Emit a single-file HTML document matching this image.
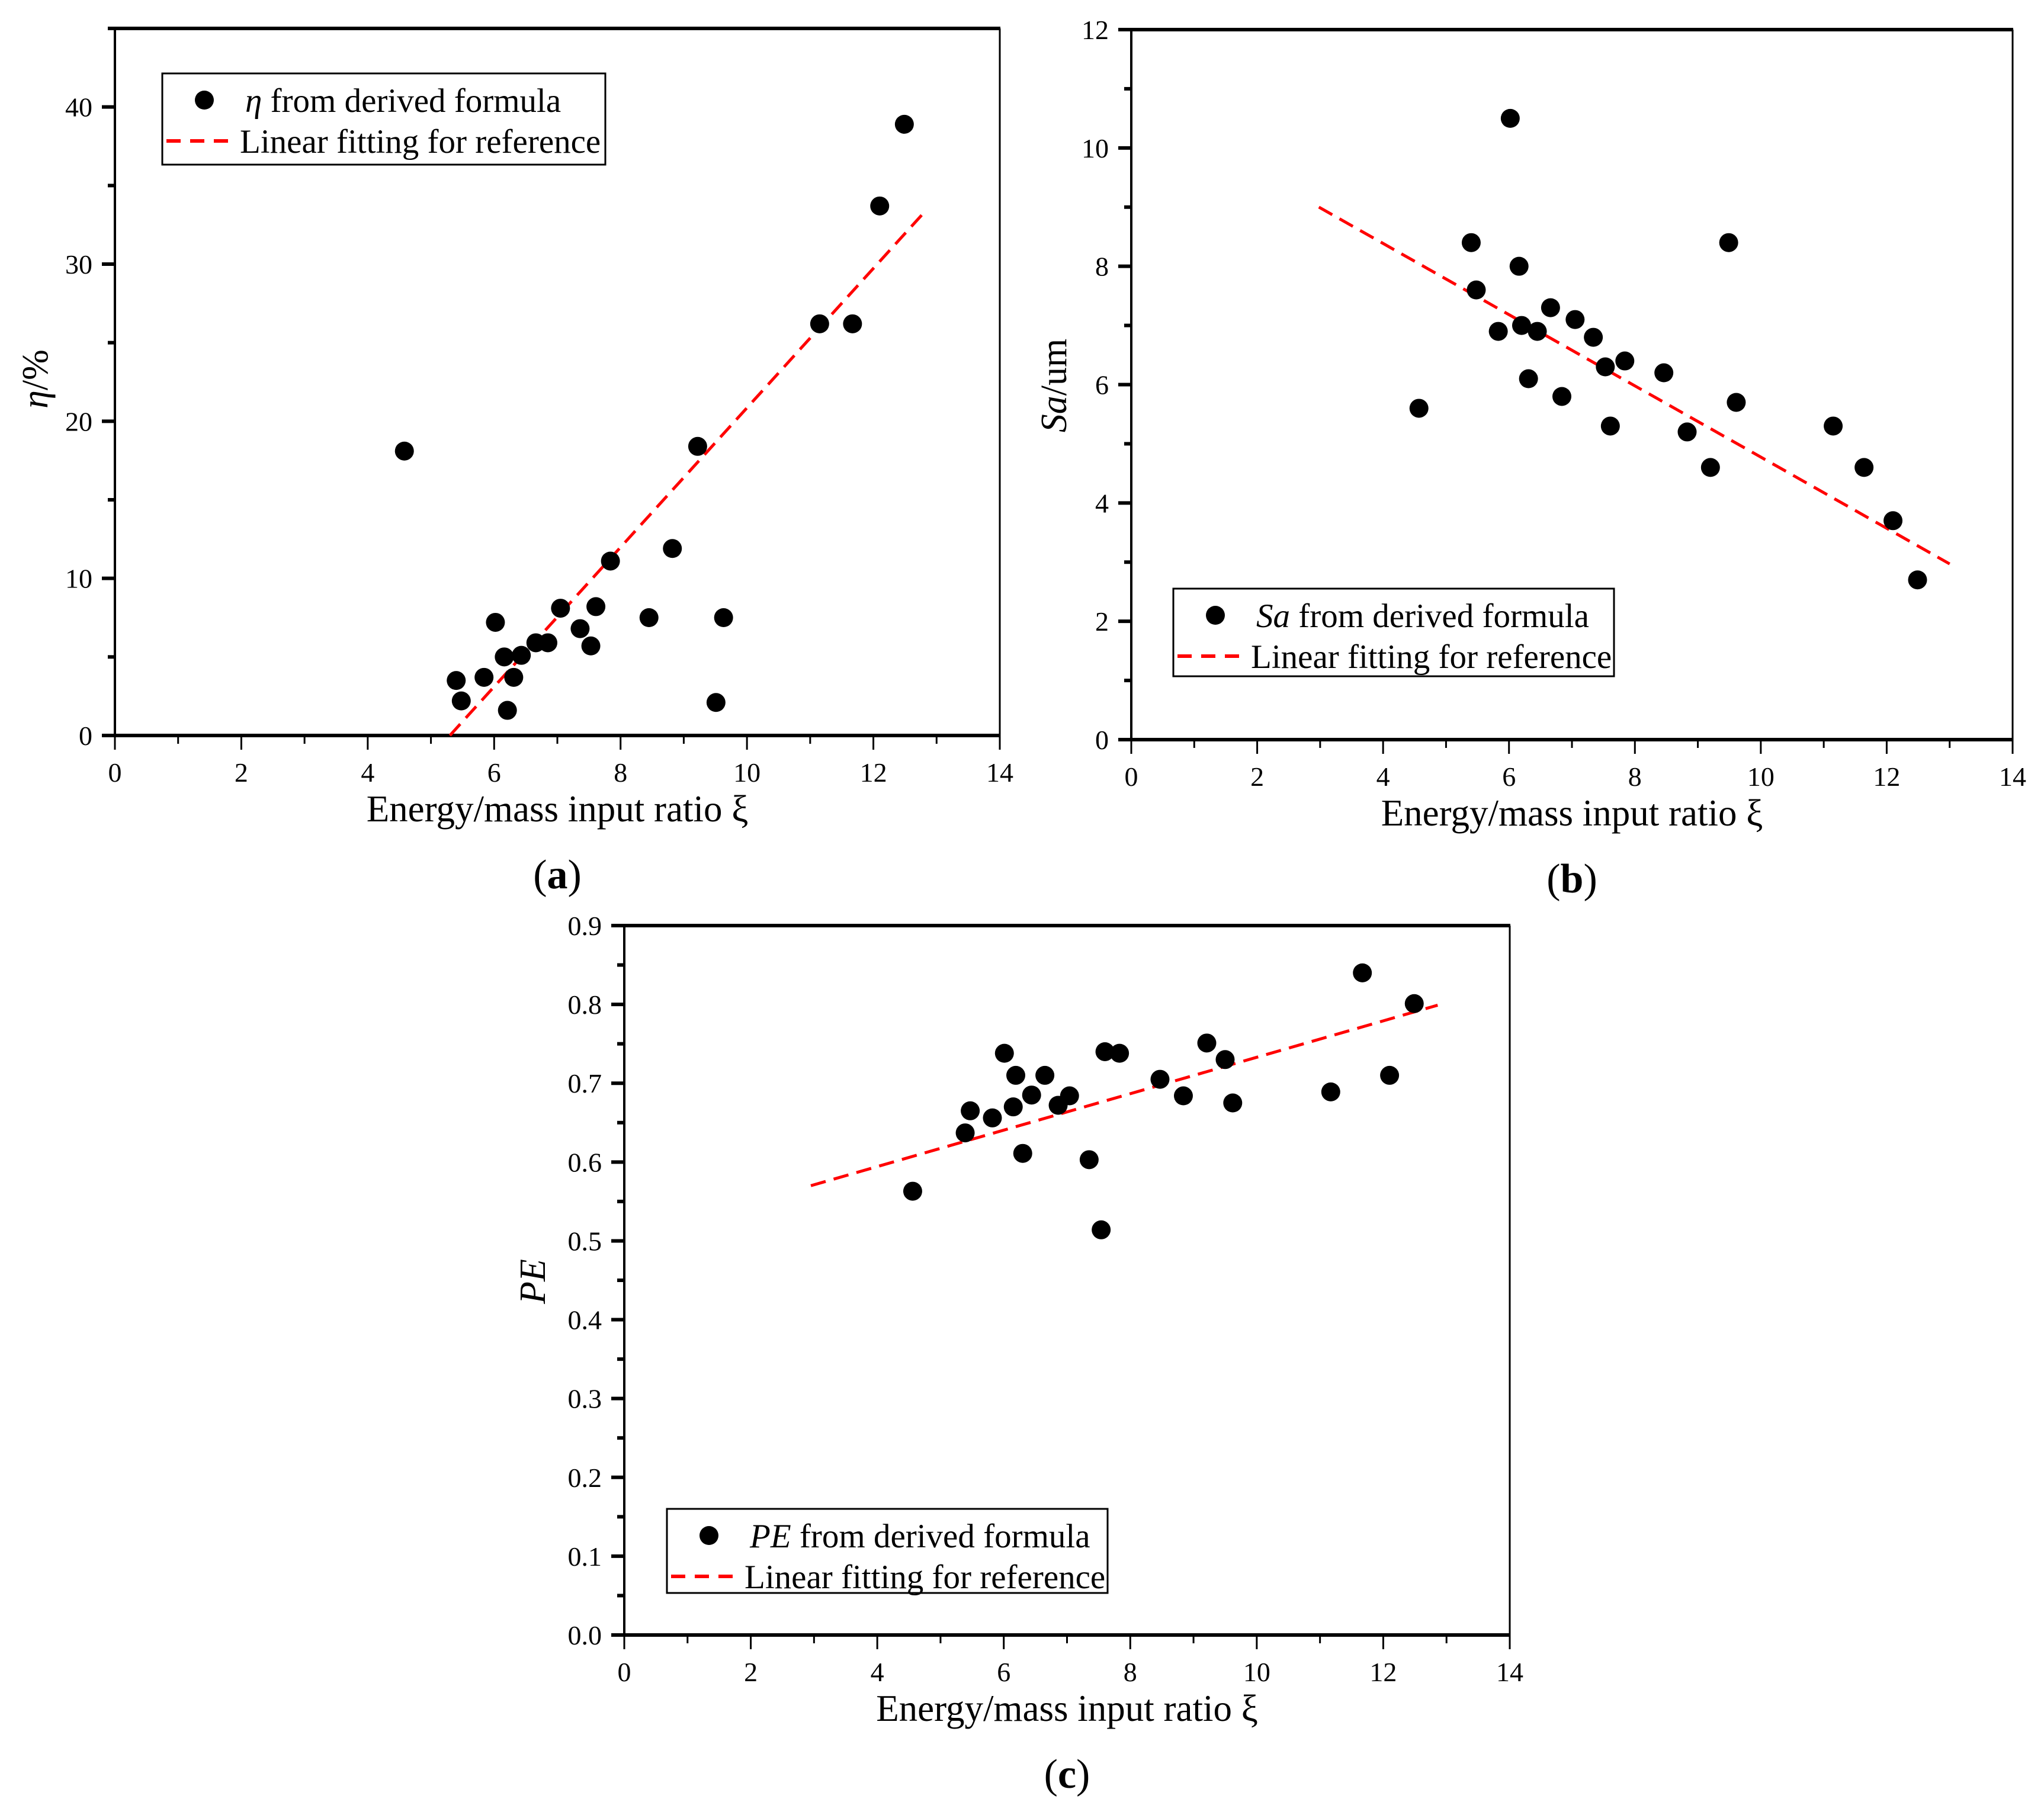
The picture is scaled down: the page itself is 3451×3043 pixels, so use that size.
<!DOCTYPE html>
<html><head><meta charset="utf-8"><style>
html,body{margin:0;padding:0;background:#fff;}
svg{display:block;font-family:"Liberation Serif",serif;}
</style></head><body>
<svg id="fig" width="3451" height="3043" viewBox="0 0 3451 3043" xmlns="http://www.w3.org/2000/svg"></svg>
<script>
const etaX = [4.58,5.40,5.48,5.84,6.02,6.16,6.21,6.31,6.43,6.66,6.85,7.05,7.36,7.53,7.61,7.84,8.45,8.82,9.22,9.51,9.63,11.15,11.67,12.10,12.49];
const etaValues = [18.1,3.5,2.2,3.7,7.2,5.0,1.6,3.7,5.1,5.9,5.9,8.1,6.8,5.7,8.2,11.1,7.5,11.9,18.4,2.1,7.5,26.2,26.2,33.7,38.9];
const etaFitX = [5.30,12.85];
const etaFitY = [0,33.5];
const saX = [4.57,5.40,5.48,5.83,6.02,6.16,6.20,6.31,6.45,6.66,6.84,7.05,7.34,7.53,7.61,7.84,8.46,8.83,9.20,9.49,9.61,11.15,11.64,12.10,12.49];
const saValues = [5.6,8.4,7.6,6.9,10.5,8.0,7.0,6.1,6.9,7.3,5.8,7.1,6.8,6.3,5.3,6.4,6.2,5.2,4.6,8.4,5.7,5.3,4.6,3.7,2.7];
const saFitX = [2.98,13.0];
const saFitY = [9.0,2.97];
const peX = [4.56,5.39,5.47,5.82,6.01,6.15,6.19,6.30,6.44,6.65,6.86,7.04,7.35,7.54,7.60,7.83,8.47,8.84,9.21,9.50,9.62,11.17,11.67,12.10,12.49];
const peValues = [0.563,0.637,0.665,0.656,0.738,0.670,0.710,0.611,0.685,0.710,0.672,0.684,0.603,0.514,0.740,0.738,0.705,0.684,0.751,0.730,0.675,0.689,0.840,0.710,0.801];
const peFitX = [2.95,12.86];
const peFitY = [0.570,0.799];
const xTicks = [0,2,4,6,8,10,12,14];
const etaTicks = [0,10,20,30,40];
const saTicks = [0,2,4,6,8,10,12];
const peTicks = [0,0.1,0.2,0.3,0.4,0.5,0.6,0.7,0.8,0.9];

const NS = "http://www.w3.org/2000/svg";
const svg = document.getElementById('fig');
function mk(tag, attrs, parent, text){
  const e = document.createElementNS(NS, tag);
  for (const k in attrs) e.setAttribute(k, attrs[k]);
  if (text !== undefined) e.textContent = text;
  (parent || svg).appendChild(e);
  return e;
}

function panel(cfg){
  const g = mk('g', {});
  
  
  const X = v => cfg.x0 + (v - 0) / 14 * (cfg.x1 - cfg.x0);
  const Y = v => cfg.y0 - (v - cfg.ymin) / (cfg.ymax - cfg.ymin) * (cfg.y0 - cfg.y1);
  const frame = mk('g', {}, g);
  
  
  mk('line', {x1: cfg.x0 - 2, y1: cfg.y1, x2: cfg.x1 + 1, y2: cfg.y1, stroke: '#000', 'stroke-width': 6}, frame);
  mk('line', {x1: cfg.x0 - 2, y1: cfg.y0, x2: cfg.x1 + 1, y2: cfg.y0, stroke: '#000', 'stroke-width': 6}, frame);
  mk('line', {x1: cfg.x0, y1: cfg.y1, x2: cfg.x0, y2: cfg.y0, stroke: '#000', 'stroke-width': 4}, frame);
  mk('line', {x1: cfg.x1, y1: cfg.y1, x2: cfg.x1, y2: cfg.y0, stroke: '#000', 'stroke-width': 3}, frame);
  const xa = mk('g', {}, g);
  
  
  for (let v = 0; v <= 14; v += 1) {
    const major = v % 2 === 0;
    mk('line', {x1: X(v), y1: cfg.y0, x2: X(v), y2: cfg.y0 + (major ? 24 : 14), stroke: '#000', 'stroke-width': 3}, xa);
  }
  xTicks.forEach(v => {
    const t = mk('text', {x: X(v), y: cfg.y0 + 78, 'font-size': 46, 'text-anchor': 'middle'}, xa, String(v));
    
    
  });
  const xt = mk('text', {x: (cfg.x0 + cfg.x1) / 2, y: cfg.y0 + 145, 'font-size': 63, 'text-anchor': 'middle'}, g, 'Energy/mass input ratio ξ');
  
  
  const ya = mk('g', {}, g);
  
  
  const yt = cfg.yTicks;
  const step = yt[1] - yt[0];
  for (let i = 0; i < yt.length; i++) {
    mk('line', {x1: cfg.x0, y1: Y(yt[i]), x2: cfg.x0 - 22, y2: Y(yt[i]), stroke: '#000', 'stroke-width': 6}, ya);
    const mv = yt[i] + step / 2;
    if (mv <= cfg.ymax + 1e-9) mk('line', {x1: cfg.x0, y1: Y(mv), x2: cfg.x0 - 12, y2: Y(mv), stroke: '#000', 'stroke-width': 6}, ya);
    const t = mk('text', {x: cfg.x0 - 38, y: Y(yt[i]) + 16, 'font-size': 46, 'text-anchor': 'end'}, ya, cfg.fmt(yt[i]));
    
    
  }
  const ytt = mk('text', {x: cfg.ytX, y: cfg.ytY, 'font-size': 62, 'text-anchor': 'middle', transform: `rotate(-90 ${cfg.ytX} ${cfg.ytY})`}, g);
  
  
  cfg.ytitle(ytt);
  const fl = mk('line', {x1: X(cfg.fitX[0]), y1: Y(cfg.fitY[0]), x2: X(cfg.fitX[1]), y2: Y(cfg.fitY[1]), stroke: '#ff0000', 'stroke-width': 5, 'stroke-dasharray': '26 14'}, g);
  
  
  const pg = mk('g', {}, g);
  
  
  cfg.xs.forEach((xv, i) => {
    const c = mk('circle', {cx: X(xv), cy: Y(cfg.ys[i]), r: 16, fill: '#000'}, pg);
    
    
  });
  const L = cfg.leg;
  const lg = mk('g', {}, g);
  
  
  mk('rect', {x: L.x, y: L.y, width: L.w, height: L.h, fill: '#fff', stroke: '#000', 'stroke-width': 3}, lg);
  const e1 = mk('g', {}, lg);
  
  
  mk('circle', {cx: L.x + 71, cy: L.y + 45, r: 16, fill: '#000'}, e1);
  const t1 = mk('text', {x: L.x + 140, y: L.y + 65, 'font-size': 57}, e1);
  L.label(t1);
  const e2 = mk('g', {}, lg);
  
  
  mk('line', {x1: L.x + 7, y1: L.y + 114, x2: L.x + 123, y2: L.y + 114, stroke: '#ff0000', 'stroke-width': 6, 'stroke-dasharray': '24 16'}, e2);
  mk('text', {x: L.x + 131, y: L.y + 134, 'font-size': 57}, e2, 'Linear fitting for reference');
  const pl = mk('text', {x: (cfg.x0 + cfg.x1) / 2, y: cfg.y0 + 258, 'font-size': 70, 'text-anchor': 'middle'}, g);
  
  
  mk('tspan', {}, pl, '(');
  mk('tspan', {'font-weight': 'bold'}, pl, cfg.letter);
  mk('tspan', {}, pl, ')');
}

function italicLabel(it, rest){
  return t => { mk('tspan', {'font-style': 'italic'}, t, it); if (rest) mk('tspan', {}, t, rest); };
}

panel({name: 'panel-a-eta', letter: 'a', x0: 194, x1: 1688, y0: 1242, y1: 48, ymin: 0, ymax: 45,
  yTicks: etaTicks, fmt: v => String(v), xs: etaX, ys: etaValues, fitX: etaFitX, fitY: etaFitY,
  ytX: 80, ytY: 640, ytitle: italicLabel('η', '/%'),
  leg: {x: 274, y: 124, w: 748, h: 154, label: italicLabel('η', ' from derived formula')}});
panel({name: 'panel-b-sa', letter: 'b', x0: 1910, x1: 3398, y0: 1249, y1: 50, ymin: 0, ymax: 12,
  yTicks: saTicks, fmt: v => String(v), xs: saX, ys: saValues, fitX: saFitX, fitY: saFitY,
  ytX: 1800, ytY: 651, ytitle: italicLabel('Sa', '/um'),
  leg: {x: 1981, y: 994, w: 744, h: 148, label: italicLabel('Sa', ' from derived formula')}});
panel({name: 'panel-c-pe', letter: 'c', x0: 1054, x1: 2549, y0: 2761, y1: 1563, ymin: 0, ymax: 0.9,
  yTicks: peTicks, fmt: v => v.toFixed(1), xs: peX, ys: peValues, fitX: peFitX, fitY: peFitY,
  ytX: 920, ytY: 2164, ytitle: italicLabel('PE', ''),
  leg: {x: 1126, y: 2548, w: 744, h: 142, label: italicLabel('PE', ' from derived formula')}});
</script>
</body></html>
